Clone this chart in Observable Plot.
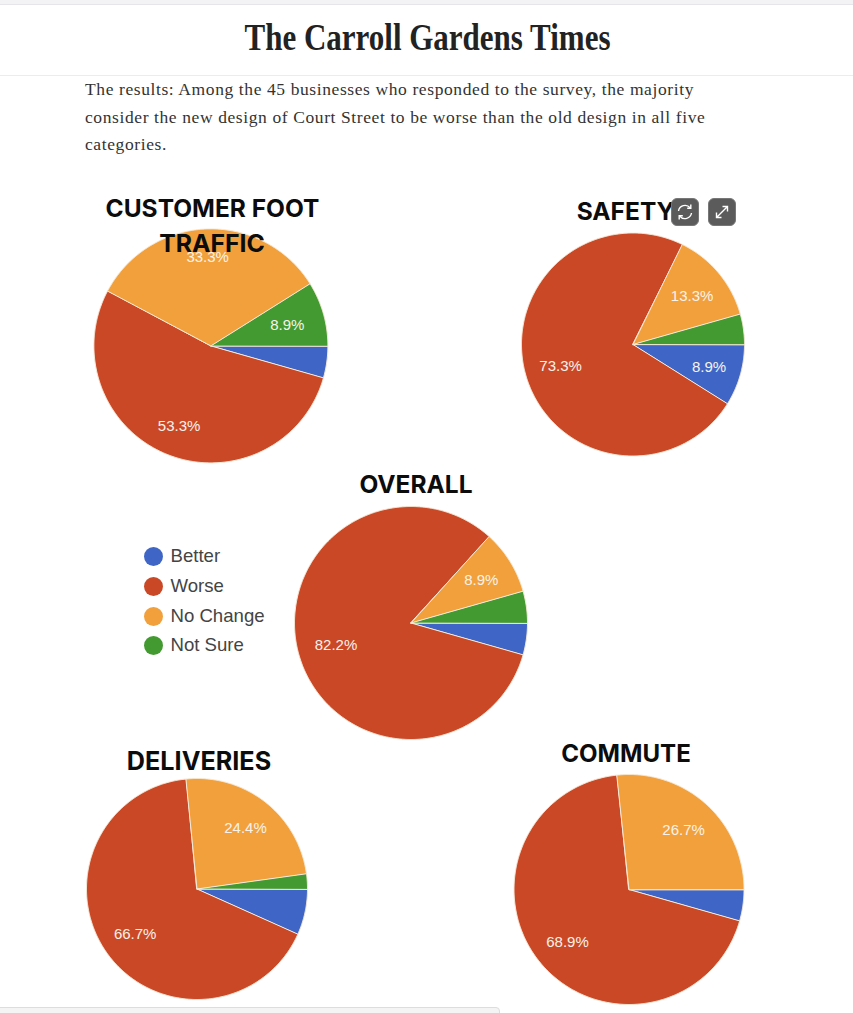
<!DOCTYPE html>
<html>
<head>
<meta charset="utf-8">
<script src="https://cdn.jsdelivr.net/npm/d3@7"></script>
<script src="https://cdn.jsdelivr.net/npm/@observablehq/plot@0.6"></script>
<style>
html,body{margin:0;padding:0;background:#fff;overflow:hidden;width:853px;height:1013px}
#page{position:relative;width:853px;height:1013px;overflow:hidden}
#strip{position:absolute;left:0;top:0;width:853px;height:4px;background:#f3f3f6;border-bottom:1px solid #e6e6ea}
#mast{position:absolute;left:1px;top:15px;width:853px;text-align:center;font:bold 31px/46px "Liberation Serif",serif;color:#222;transform:scaleY(1.2)}
#rule{position:absolute;left:0;top:75px;width:853px;height:1px;background:#ececec}
#intro{position:absolute;left:85px;top:76px;width:660px;font:17.5px/27.5px "Liberation Serif",serif;color:#333;letter-spacing:.6px}
#chart{position:absolute;left:0;top:170px}
.btn{position:absolute;top:198px;width:28px;height:28px;border-radius:6px;background:#5b5b5b;border:1px solid #777;box-sizing:border-box}
.btn svg{position:absolute;left:3px;top:3px}
#status{position:absolute;left:-4px;top:1007px;width:504px;height:12px;background:#f4f4f4;border:1px solid #ddd;border-radius:4px;box-sizing:border-box}
</style>
</head>
<body>
<div id="page">
  <div id="strip"></div>
  <div id="mast">The Carroll Gardens Times</div>
  <div id="rule"></div>
  <div id="intro">The results: Among the 45 businesses who responded to the survey, the majority<br>consider the new design of Court Street to be worse than the old design in all five<br>categories.</div>
  <div id="chart"></div>
  <div class="btn" style="left:671px"><svg width="20" height="20" viewBox="0 0 20 20" fill="none" stroke="#fff" stroke-width="1.4"><path d="M3.5 9a6.6 6.6 0 0 1 11.6-3.2M16.5 11a6.6 6.6 0 0 1-11.6 3.2"/><path d="M15.8 2.6v3.6h-3.6M4.2 17.4v-3.6h3.6"/></svg></div>
  <div class="btn" style="left:708px"><svg width="20" height="20" viewBox="0 0 20 20" fill="none" stroke="#fff" stroke-width="1.4"><path d="M5 15 15 5M10.5 4.5h5v5M9.5 15.5h-5v-5"/></svg></div>
  <div id="status"></div>
</div>
<script>
// ---- data ----
const categories = ["Better", "Worse", "No Change", "Not Sure"];
const categoryColors = ["#3f66c6", "#cb4826", "#f2a03b", "#439a30"];
const customerFootTraffic = [4.4, 53.3, 33.3, 8.9];
const safety = [8.9, 73.3, 13.3, 4.4];
const overall = [4.4, 82.2, 8.9, 4.4];
const deliveries = [6.7, 66.7, 24.4, 2.2];
const commute = [4.4, 68.9, 26.7, 0];

// ---- page layout, in px of the 853×1013 page ----
const pies = [
  {values: customerFootTraffic, cx: 210.4, cy: 345.4, r: 117, labelAt: [0, 0.73, 0.77, 0.68]},
  {values: safety, cx: 632.5, cy: 344, r: 111.5, labelAt: [0.71, 0.675, 0.69, 0]},
  {values: overall, cx: 410.5, cy: 622.5, r: 116.5, labelAt: [0, 0.67, 0.71, 0]},
  {values: deliveries, cx: 196.5, cy: 888.5, r: 110.5, labelAt: [0, 0.69, 0.71, 0]},
  {values: commute, cx: 628.5, cy: 889, r: 115, labelAt: [0, 0.7, 0.71, 0]}
];
const titles = [
  {text: "CUSTOMER FOOT", x: 212, y: 208.5, size: 24.5},
  {text: "TRAFFIC", x: 211.5, y: 243.5, size: 24.8},
  {text: "SAFETY", x: 625, y: 211.5, size: 24.5},
  {text: "OVERALL", x: 415.5, y: 484.5, size: 24.5},
  {text: "DELIVERIES", x: 198.5, y: 761.5, size: 25.2},
  {text: "COMMUTE", x: 625.5, y: 753.5, size: 24.1}
];
const legendPos = {x: 153, textX: 170, y: [556, 586, 616, 645]};
const labelShiftY = 1;

// ---- slices: polygons built from the values ----
const vertices = [];
const labels = [];
pies.forEach((p, i) => {
  const total = d3.sum(p.values);
  let a0 = 0; // clockwise from 3 o'clock, in degrees
  p.values.forEach((v, j) => {
    if (v <= 0) return;
    const a1 = a0 + v / total * 360;
    const id = i + "-" + j;
    vertices.push({id, cat: categories[j], x: p.cx, y: p.cy});
    const n = Math.ceil(a1 - a0) * 2;
    for (let k = 0; k <= n; k++) {
      const t = (a0 + (a1 - a0) * k / n) * Math.PI / 180;
      vertices.push({id, cat: categories[j], x: p.cx + p.r * Math.cos(t), y: p.cy + p.r * Math.sin(t)});
    }
    if (p.labelAt[j] > 0) {
      const m = (a0 + a1) / 2 * Math.PI / 180;
      labels.push({
        text: v.toFixed(1) + "%",
        x: p.cx + p.labelAt[j] * p.r * Math.cos(m),
        y: p.cy + p.labelAt[j] * p.r * Math.sin(m) + labelShiftY
      });
    }
    a0 = a1;
  });
});
const legend = categories.map((c, i) => ({cat: c, y: legendPos.y[i]}));

const chart = Plot.plot({
  width: 853,
  height: 843,
  margin: 0,
  x: {domain: [0, 853], range: [0, 853], axis: null},
  y: {domain: [170, 1013], range: [0, 843], axis: null},
  color: {domain: categories, range: categoryColors},
  style: {background: "transparent"},
  marks: [
    Plot.line(vertices, {
      x: "x", y: "y", z: "id", fill: "cat",
      stroke: "#f6ead8", strokeWidth: 1, curve: "linear-closed", strokeLinejoin: "round"
    }),
    Plot.text(labels, {
      x: "x", y: "y", text: "text", fill: "#f8f3ea",
      fontFamily: "Liberation Sans", fontSize: 15, textAnchor: "middle"
    }),
    Plot.dot(legend, {x: () => legendPos.x, y: "y", r: 9.5, fill: "cat"}),
    Plot.text(legend, {
      x: () => legendPos.textX, y: "y", text: "cat", fill: "#444",
      fontFamily: "Liberation Sans", fontSize: 18.6, textAnchor: "start"
    }),
    Plot.text(titles, {
      x: "x", y: "y", text: "text", fill: "#0c0c0c",
      fontFamily: "Inter", fontWeight: 700, fontSize: "size", textAnchor: "middle"
    })
  ]
});
document.getElementById("chart").appendChild(chart);
</script>
</body>
</html>
